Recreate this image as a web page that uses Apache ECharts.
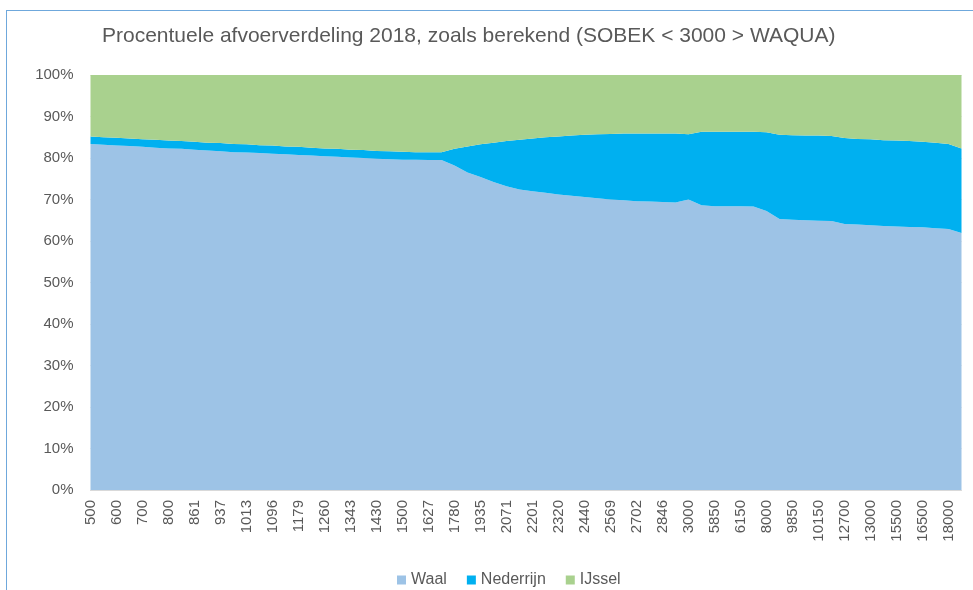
<!DOCTYPE html>
<html>
<head>
<meta charset="utf-8">
<script src="https://cdn.jsdelivr.net/npm/echarts@6/dist/echarts.min.js"></script>
<style>
  html, body { margin: 0; padding: 0; background: #fff; }
  #frame {
    position: absolute; left: 6px; top: 10px; width: 980px; height: 600px;
    border-left: 1.5px solid #6fa8dc; border-top: 1.5px solid #6fa8dc;
  }
  #chart { position: absolute; left: 0; top: 0; width: 973px; height: 590px; }
</style>
</head>
<body>
<div id="frame"></div>
<div id="chart"></div>
<script>
// afvoer (m3/s) - elke tweede categorie heeft een label
const categories = [
  "500", "550", "600", "650", "700", "750", "800", "830", "861", "900",
  "937", "975", "1013", "1055", "1096", "1138", "1179", "1220", "1260", "1300",
  "1343", "1387", "1430", "1465", "1500", "1560", "1627", "1700", "1780", "1860",
  "1935", "2000", "2071", "2136", "2201", "2260", "2320", "2380", "2440", "2500",
  "2569", "2635", "2702", "2774", "2846", "2923", "3000", "4000", "5850", "6000",
  "6150", "7000", "8000", "9000", "9850", "10000", "10150", "11000", "12700", "12850",
  "13000", "14000", "15500", "16000", "16500", "17000", "18000", "19000"
];

const waal = [
  83.4, 83.2, 83.0, 82.9, 82.7, 82.5, 82.3, 82.2, 82.0, 81.8,
  81.6, 81.4, 81.3, 81.2, 81.0, 80.9, 80.7, 80.6, 80.4, 80.3,
  80.1, 80.0, 79.8, 79.7, 79.6, 79.6, 79.5, 79.5, 78.2, 76.5,
  75.4, 74.2, 73.2, 72.4, 72.0, 71.6, 71.2, 70.9, 70.6, 70.3,
  70.0, 69.8, 69.6, 69.5, 69.4, 69.3, 70.0, 68.6, 68.4, 68.4,
  68.4, 68.3, 67.2, 65.3, 65.1, 65.0, 64.9, 64.8, 64.1, 64.0,
  63.8, 63.6, 63.5, 63.4, 63.3, 63.1, 62.9, 61.9
];

const nederrijn = [
  1.8, 1.8, 1.9, 1.8, 1.8, 1.9, 1.9, 1.9, 1.9, 1.9,
  2.0, 2.0, 2.0, 1.9, 2.0, 1.9, 2.0, 1.9, 1.9, 1.9,
  1.9, 1.9, 1.9, 1.9, 1.9, 1.8, 1.9, 1.9, 4.0, 6.3,
  7.9, 9.5, 10.9, 12.0, 12.7, 13.4, 14.0, 14.5, 15.0, 15.4,
  15.8, 16.1, 16.3, 16.4, 16.5, 16.6, 15.7, 17.7, 17.9, 17.9,
  17.9, 18.0, 19.0, 20.3, 20.4, 20.4, 20.5, 20.5, 20.7, 20.6,
  20.7, 20.7, 20.7, 20.7, 20.6, 20.6, 20.5, 20.4
];

const ijssel = [
  14.8, 15.0, 15.1, 15.3, 15.5, 15.6, 15.8, 15.9, 16.1, 16.3,
  16.4, 16.6, 16.7, 16.9, 17.0, 17.2, 17.3, 17.5, 17.7, 17.8,
  18.0, 18.1, 18.3, 18.4, 18.5, 18.6, 18.6, 18.6, 17.8, 17.2,
  16.7, 16.3, 15.9, 15.6, 15.3, 15.0, 14.8, 14.6, 14.4, 14.3,
  14.2, 14.1, 14.1, 14.1, 14.1, 14.1, 14.3, 13.7, 13.7, 13.7,
  13.7, 13.7, 13.8, 14.4, 14.5, 14.6, 14.6, 14.7, 15.2, 15.4,
  15.5, 15.7, 15.8, 15.9, 16.1, 16.3, 16.6, 17.7
];

const textColor = "#595959";
const fontFamily = "'Liberation Sans', Arial, sans-serif";

const makeSeries = (name, data, color) => ({
  name: name,
  type: "line",
  stack: "totaal",
  data: data,
  symbol: "none",
  lineStyle: { width: 0 },
  areaStyle: { color: color, opacity: 1 },
  itemStyle: { color: color },
});

const chart = echarts.init(document.getElementById("chart"));
chart.setOption({
  animation: false,
  textStyle: { fontFamily: fontFamily },
  title: {
    text: "Procentuele afvoerverdeling 2018, zoals berekend (SOBEK < 3000 > WAQUA)",
    left: 97,
    top: 21,
    textStyle: { fontSize: 21, fontWeight: "normal", color: textColor, fontFamily: fontFamily },
  },
  legend: {
    top: 567,
    left: 392,
    icon: "rect",
    itemWidth: 9,
    itemHeight: 9,
    itemGap: 20,
    textStyle: { fontSize: 16, color: textColor },
    data: ["Waal", "Nederrijn", "IJssel"],
  },
  grid: { left: 90.5, right: 11.5, top: 75, bottom: 100 },
  xAxis: {
    type: "category",
    data: categories,
    boundaryGap: false,
    axisTick: { show: false },
    axisLine: { lineStyle: { color: "#d9d9d9" } },
    axisLabel: { interval: 1, rotate: 90, fontSize: 15, color: textColor, margin: 10 },
  },
  yAxis: {
    type: "value",
    min: 0,
    max: 100,
    interval: 10,
    axisLabel: { formatter: "{value}%", fontSize: 15, color: textColor, margin: 17 },
    splitLine: { lineStyle: { color: "#d9d9d9" } },
  },
  series: [
    makeSeries("Waal", waal, "#9dc3e6"),
    makeSeries("Nederrijn", nederrijn, "#00b0f0"),
    makeSeries("IJssel", ijssel, "#a9d18e"),
  ],
});
</script>
</body>
</html>
